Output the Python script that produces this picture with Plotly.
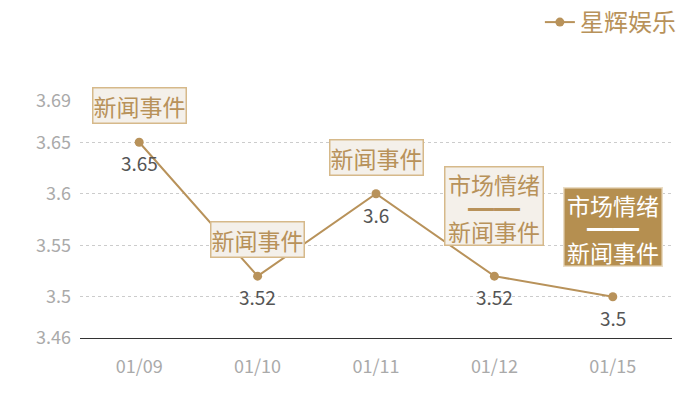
import plotly.graph_objects as go

categories = ["01/09", "01/10", "01/11", "01/12", "01/15"]
values = [3.65, 3.52, 3.6, 3.52, 3.5]
value_labels = ["3.65", "3.52", "3.6", "3.52", "3.5"]
event_lines = [["新闻事件"], ["新闻事件"], ["新闻事件"],
               ["市场情绪", "━━", "新闻事件"], ["市场情绪", "━━", "新闻事件"]]
highlight = [False, False, False, False, True]
series_name = "星辉娱乐"
y_ticks = [3.46, 3.5, 3.55, 3.6, 3.65, 3.69]

GOLD = "#b8925a"
FONT = "Noto Sans CJK SC"

fig = go.Figure()
fig.add_trace(go.Scatter(
    x=categories, y=values, mode="lines+markers", name=series_name,
    line=dict(color=GOLD, width=2),
    marker=dict(color=GOLD, size=9),
))

for c, v, t in zip(categories, values, value_labels):
    fig.add_annotation(
        x=c, y=v, xref="x", yref="y", text=t, showarrow=False,
        yanchor="top", yshift=-5,
        font=dict(family=FONT, size=19, color="#555555"),
    )

for c, v, lines, hi in zip(categories, values, event_lines, highlight):
    txt_color = "#ffffff" if hi else GOLD
    bg = "#b58f50" if hi else "#f4f0ea"
    bc = "#eadcc4" if hi else "#d6b98a"
    if len(lines) == 1:
        fig.add_annotation(
            x=c, y=v, xref="x", yref="y", text=lines[0], showarrow=False,
            yanchor="bottom", yshift=18,
            font=dict(family=FONT, size=23, color=txt_color),
            bgcolor=bg, bordercolor=bc, borderwidth=1.5, borderpad=0,
        )
    else:
        # box
        fig.add_annotation(
            x=c, y=v, xref="x", yref="y", text=" ", showarrow=False,
            yanchor="bottom", yshift=30, width=97, height=77,
            font=dict(family=FONT, size=10, color=txt_color),
            bgcolor=bg, bordercolor=bc, borderwidth=1.5, borderpad=0,
        )
        for ln, ys in zip(lines, [92, 69, 45]):
            fig.add_annotation(
                x=c, y=v, xref="x", yref="y", text=ln, showarrow=False,
                yanchor="middle", yshift=ys,
                font=dict(family=FONT, size=23 if ln[0] != "━" else 26,
                          color=txt_color),
            )

fig.update_layout(
    width=700, height=400,
    margin=dict(l=80, r=28, t=101, b=62),
    plot_bgcolor="white", paper_bgcolor="white",
    font=dict(family=FONT),
    showlegend=True,
    legend=dict(x=1.015, xanchor="right", y=1.0, yref="container", yanchor="top",
                orientation="h", font=dict(family=FONT, size=24, color=GOLD),
                itemwidth=30, bgcolor="rgba(0,0,0,0)"),
    xaxis=dict(type="category", range=[-0.5, 4.5], showgrid=False,
               showline=True, linecolor="#333333", linewidth=1,
               tickfont=dict(family=FONT, size=18, color="#aaaaaa"),
               ticks="", ticklabelstandoff=12),
    yaxis=dict(range=[3.46, 3.69], tickvals=y_ticks,
               ticktext=[str(t) for t in y_ticks],
               showgrid=True, gridcolor="#cccccc", griddash="dot", gridwidth=1,
               zeroline=False, showline=False,
               tickfont=dict(family=FONT, size=18, color="#aaaaaa"),
               ticks="", ticklabelstandoff=8),
)

fig.write_html("out.html", config={"displayModeBar": False},
               post_script="document.body.style.margin='0';")
